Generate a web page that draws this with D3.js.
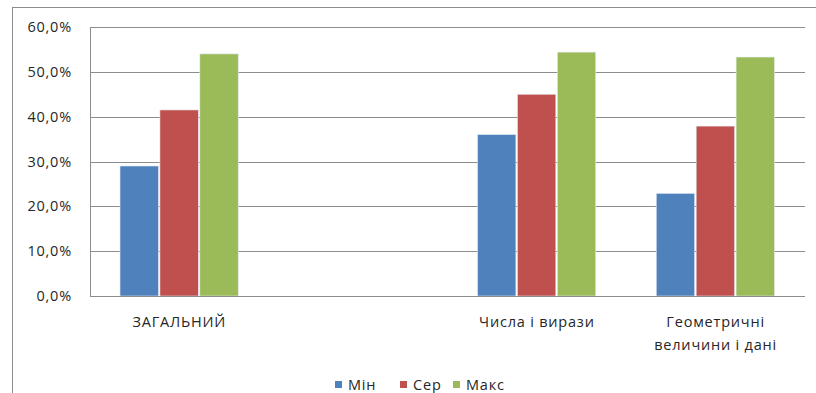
<!DOCTYPE html>
<html>
  <head>
    <meta charset="utf-8" />
    <title>Мін / Сер / Макс</title>
    <style>
      body { margin: 0; background: #fff; }
      text { font-family: 'Open Sans', sans-serif; font-size: 14.5px; letter-spacing: 0.8px; fill: #262626; }
      .grid line { stroke: #8c8c8c; stroke-width: 1px; }
    </style>
    <script src="https://d3js.org/d3.v7.min.js"></script>
  </head>
  <body>
    <svg width="816" height="393"></svg>
    <script>
      // data
      var categories = ['ЗАГАЛЬНИЙ', '', 'Числа і вирази', 'Геометричні величини і дані']
      var categoryLines = [['ЗАГАЛЬНИЙ'], [''], ['Числа і вирази'], ['Геометричні', 'величини і дані']]
      var seriesNames = ['Мін', 'Сер', 'Макс']
      var minValues = [0.29, null, 0.36, 0.229]
      var avgValues = [0.415, null, 0.45, 0.379]
      var maxValues = [0.54, null, 0.544, 0.533]
      var yTicks = [0, 0.1, 0.2, 0.3, 0.4, 0.5, 0.6]
      var colors = ['#4f81bd', '#c0504d', '#9bbb59']

      var svg = d3.select('svg')
      var margin = { left: 90, right: 11, top: 27, bottom: 97 }
      var width = 816 - margin.left - margin.right
      var height = 393 - margin.top - margin.bottom

      // outer chart frame
      svg.append('rect')
        .attr('x', 12.5).attr('y', 7.5)
        .attr('width', 820).attr('height', 400)
        .style('fill', 'none').style('stroke', '#8c8c8c').style('stroke-width', 1)

      var g = svg.append('g').attr('transform', 'translate(' + margin.left + ',' + margin.top + ')')

      var x = d3.scaleBand().domain(d3.range(categories.length)).range([0, width])
      var x1 = d3.scaleBand().domain(d3.range(seriesNames.length))
        .range([x.bandwidth() * 0.165, x.bandwidth() * 0.835])
      var y = d3.scaleLinear().domain([0, 0.6]).range([height, 0])

      // gridlines
      g.append('g').attr('class', 'grid')
        .selectAll('line').data(yTicks).enter().append('line')
        .attr('x1', 0).attr('x2', width)
        .attr('y1', function (d) { return Math.round(y(d)) + 0.5 })
        .attr('y2', function (d) { return Math.round(y(d)) + 0.5 })

      // y axis line
      g.append('line')
        .attr('x1', 0.5).attr('x2', 0.5).attr('y1', 0).attr('y2', height)
        .style('stroke', '#8c8c8c')

      // y labels
      var fmt = function (d) { return d3.format('.1f')(d * 100).replace('.', ',') + '%' }
      g.selectAll('.ylab').data(yTicks).enter().append('text')
        .attr('class', 'ylab')
        .attr('x', -18).attr('y', function (d) { return y(d) })
        .attr('dy', '0.35em')
        .style('text-anchor', 'end')
        .text(fmt)

      // bars
      var series = [minValues, avgValues, maxValues]
      series.forEach(function (vals, si) {
        g.selectAll('.bar' + si)
          .data(vals.map(function (v, i) { return { v: v, i: i } }).filter(function (d) { return d.v != null }))
          .enter().append('rect')
          .attr('x', function (d) { return x(d.i) + x1(si) + 0.5 })
          .attr('width', x1.bandwidth() - 1.5)
          .attr('y', function (d) { return y(d.v) })
          .attr('height', function (d) { return height - y(d.v) })
          .style('fill', colors[si])
          .style('stroke', '#e6ecf2').style('stroke-width', 0.6)
      })

      // x axis line
      g.append('line')
        .attr('x1', 0).attr('x2', width).attr('y1', height + 0.5).attr('y2', height + 0.5)
        .style('stroke', '#8c8c8c')

      // category labels
      categoryLines.forEach(function (lines, i) {
        var t = g.append('text')
          .attr('x', x(i) + x.bandwidth() / 2)
          .attr('y', height + 31)
          .style('text-anchor', 'middle')
        lines.forEach(function (l, k) {
          t.append('tspan').attr('x', x(i) + x.bandwidth() / 2).attr('dy', k === 0 ? 0 : 23).text(l)
        })
      })

      // legend
      var legendX = [335, 400, 453]
      var legend = svg.selectAll('.legend').data(seriesNames).enter().append('g')
        .attr('transform', function (d, i) { return 'translate(' + legendX[i] + ',381)' })
      legend.append('rect').attr('width', 7).attr('height', 7).style('fill', function (d, i) { return colors[i] })
      legend.append('text').attr('x', 13).attr('y', 4).attr('dy', '0.35em').text(function (d) { return d })
    </script>
  </body>
</html>
